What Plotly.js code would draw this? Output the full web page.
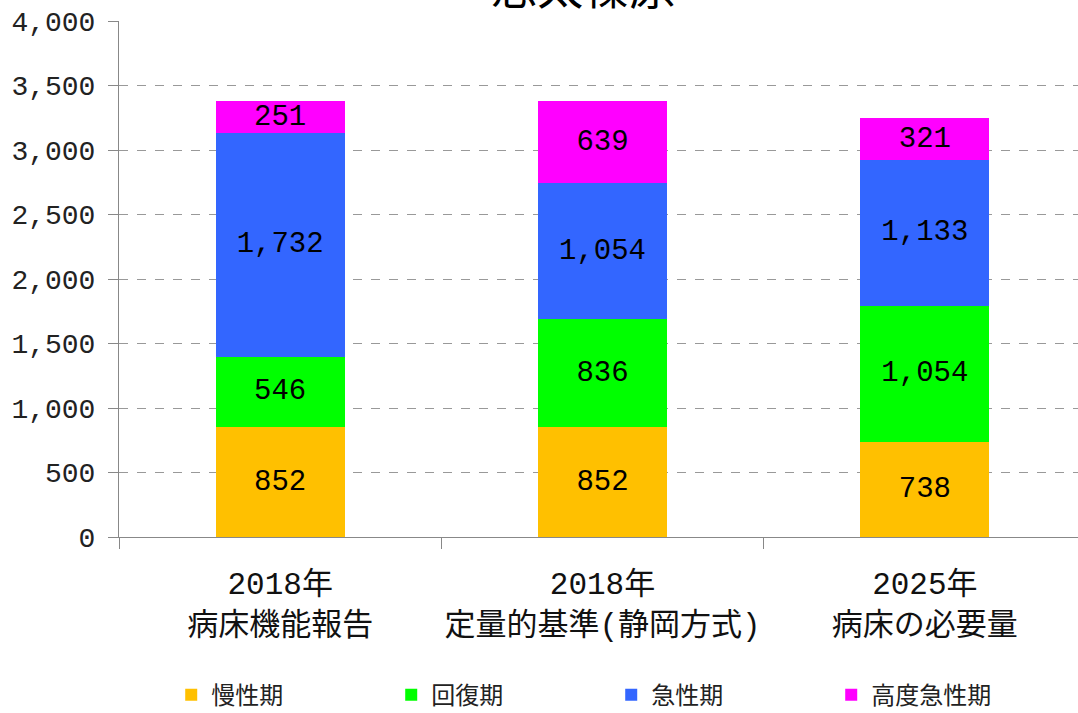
<!DOCTYPE html>
<html><head><meta charset="utf-8">
<script src="https://cdn.plot.ly/plotly-3.0.1.min.js"></script>
<style>body{margin:0;overflow:hidden}#c{width:1090px;height:713px}</style>
</head><body><div id="c"></div>
<script>
const categories = ["2018年<br>病床機能報告", "2018年<br>定量的基準(静岡方式)", "2025年<br>病床の必要量"];
const seriesNames = ["慢性期", "回復期", "急性期", "高度急性期"];
const chronic = [852, 852, 738];
const recovery = [546, 836, 1054];
const acute = [1732, 1054, 1133];
const highAcute = [251, 639, 321];
const colors = ["#FFC000", "#00FF00", "#3366FF", "#FF00FF"];
const titleText = "志太榛原";

const F = "'Noto Sans CJK JP', 'Noto Sans', sans-serif";
const M = "'Liberation Mono', 'Noto Sans CJK JP', monospace";
const series = [chronic, recovery, acute, highAcute];
const traces = series.map((vals, i) => ({
  type: "bar",
  name: seriesNames[i],
  x: categories,
  y: vals,
  width: 0.4,
  marker: {color: colors[i]},
  texttemplate: "%{y:,}",
  textposition: "inside",
  insidetextanchor: "middle",
  constraintext: "none",
  textfont: {family: M, size: 29, color: "#000"},
  hoverinfo: "y+name"
}));

const layout = {
  width: 1090, height: 713,
  margin: {l: 119, r: 3.5, t: 21, b: 176},
  barmode: "stack",
  paper_bgcolor: "#fff", plot_bgcolor: "#fff",
  font: {family: F, color: "#000"},
  title: {text: titleText, font: {family: F, size: 46, color: "#000"}, x: 0.535, xanchor: "center",
          y: 1.0, yanchor: "top", yref: "container", pad: {t: -28}},
  showlegend: true,
  legend: {orientation: "h", x: 0.054, xanchor: "left", xref: "paper", y: 0.025, yanchor: "middle", yref: "container",
           traceorder: "normal", entrywidth: 175, entrywidthmode: "pixels",
           font: {family: F, size: 24, color: "#222"}},
  xaxis: {automargin: false, showline: true, linecolor: "#888", linewidth: 1, ticks: "outside", ticklen: 11, tickcolor: "#888",
          tickson: "boundaries", tickangle: 0, tickfont: {family: M, size: 31, color: "#111"}, ticklabelstandoff: 19,
          showgrid: false},
  yaxis: {automargin: false, range: [0, 4000.5], tickvals: [0,500,1000,1500,2000,2500,3000,3500,4000], tickformat: ",", showline: true, linecolor: "#888", linewidth: 1,
          ticks: "outside", ticklen: 10, tickcolor: "#888", showgrid: true, gridcolor: "#999", griddash: "dash",
          gridwidth: 1, zeroline: false, tickfont: {family: M, size: 28, color: "#222"}, ticklabelstandoff: 7}
};
Plotly.newPlot("c", traces, layout, {displayModeBar: false, responsive: false});
</script></body></html>
